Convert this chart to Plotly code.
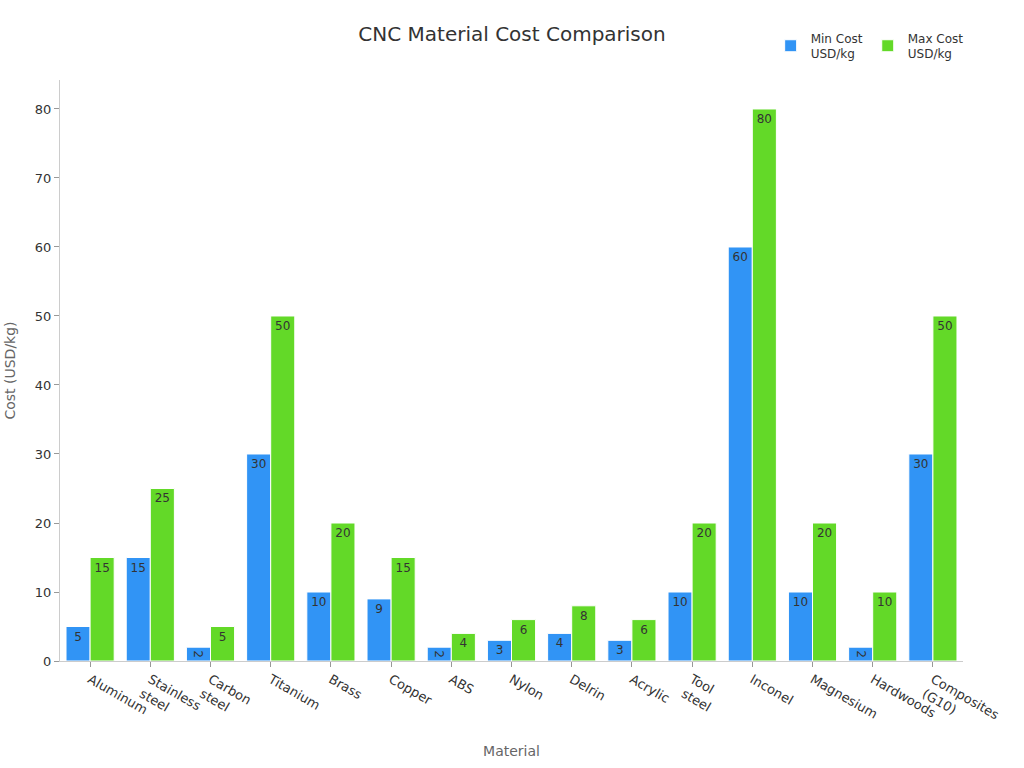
import plotly.graph_objects as go

materials = ["Aluminum", "Stainless<br>steel", "Carbon<br>steel", "Titanium", "Brass", "Copper",
             "ABS", "Nylon", "Delrin", "Acrylic", "Tool<br>steel", "Inconel", "Magnesium",
             "Hardwoods", "Composites<br>(G10)"]
min_cost = [5, 15, 2, 30, 10, 9, 2, 3, 4, 3, 10, 60, 10, 2, 30]
max_cost = [15, 25, 5, 50, 20, 15, 4, 6, 8, 6, 20, 80, 20, 10, 50]

fig = go.Figure()
fig.add_trace(go.Bar(name="Min Cost<br>USD/kg", x=materials, y=min_cost, text=min_cost,
                     textposition="inside", insidetextanchor="end",
                     marker=dict(color="#3194F5", line=dict(color="white", width=1)),
                     textfont=dict(color="#333333", size=12)))
fig.add_trace(go.Bar(name="Max Cost<br>USD/kg", x=materials, y=max_cost, text=max_cost,
                     textposition="inside", insidetextanchor="end",
                     marker=dict(color="#63D928", line=dict(color="white", width=1)),
                     textfont=dict(color="#333333", size=12)))

fig.update_layout(
    width=1024, height=768,
    font=dict(family="DejaVu Sans", size=12, color="#333333"),
    title=dict(text="CNC Material Cost Comparison", x=0.5, xanchor="center",
               y=1 - 34 / 768, yanchor="middle",
               font=dict(size=20, color="#333333")),
    plot_bgcolor="white", paper_bgcolor="white",
    margin=dict(l=60, r=61, t=80, b=107, autoexpand=False),
    barmode="group", bargap=0.2, bargroupgap=0,
    legend=dict(orientation="h", x=0.787, y=1.097, xanchor="left", yanchor="top",
                font=dict(size=12)),
    uniformtext=dict(minsize=8),
    xaxis=dict(title=dict(text="Material", font=dict(size=14, color="#666666"), standoff=10),
               automargin=False,
               tickangle=30, showline=True, linecolor="#cccccc", ticks="outside",
               tickcolor="#999999", ticklen=5, tickfont=dict(size=13)),
    yaxis=dict(title=dict(text="Cost (USD/kg)", font=dict(size=14, color="#666666")),
               automargin=False,
               range=[0, 84.2], dtick=10, showgrid=False, zeroline=False,
               showline=True, linecolor="#cccccc", ticks="outside",
               tickcolor="#999999", ticklen=5, tickfont=dict(size=13)),
)

fig.write_html("out.html")
